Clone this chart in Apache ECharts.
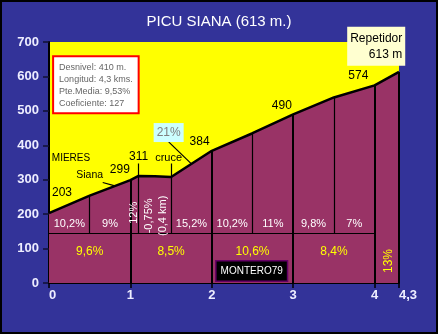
<!DOCTYPE html>
<html><head><meta charset="utf-8">
<script src="https://cdn.jsdelivr.net/npm/echarts@6/dist/echarts.min.js"></script>
<style>html,body{margin:0;padding:0;background:#333399}#c{width:438px;height:334px}</style>
</head><body><div id="c"></div>
<script>
// ---- data ----
const title = 'PICU SIANA (613 m.)';
const kms  = [0, 0.5, 1, 1.1, 1.3, 1.5, 2, 2.5, 3, 3.5, 4, 4.3];
const elev = [203, 254, 299, 311, 310, 308, 384, 435, 490, 539, 574, 613];
const segBounds = [0, 0.5, 1, 1.1, 1.5, 2, 2.5, 3, 3.5, 4];
const segGrades = ['10,2%', '9%', '12%', '-0,75%\n(0,4 km)', '15,2%', '10,2%', '11%', '9,8%', '7%'];
const kmBounds = [0, 1, 2, 3, 4, 4.3];
const kmGrades = ['9,6%', '8,5%', '10,6%', '8,4%', '13%'];
const xTicks = [0, 1, 2, 3, 4, 4.3];
const yTicks = [0, 100, 200, 300, 400, 500, 600, 700];
const infoLines = ['Desnivel: 410 m.', 'Longitud: 4,3 kms.', 'Pte.Media: 9,53%', 'Coeficiente: 127'];
const summit = ['Repetidor', '613 m'];
const credit = 'MONTERO79';

// ---- helpers ----
const FONT = '"Liberation Sans", Arial, sans-serif';
function elevAt(k) {
  for (let i = 0; i < kms.length - 1; i++) {
    if (k >= kms[i] && k <= kms[i + 1]) {
      return elev[i] + (elev[i + 1] - elev[i]) * (k - kms[i]) / (kms[i + 1] - kms[i]);
    }
  }
  return elev[elev.length - 1];
}
const SPLIT = 145; // horizontal split between segment and km grades

const thick = kmBounds.slice(1).map(k => ({ coords: [[k, 0], [k, elevAt(k)]] }));
const thin = segBounds.filter(k => kmBounds.indexOf(k) < 0).map(k => {
  const top = (k === 1.1 || k === 1.5) ? 347 : elevAt(k);
  return { coords: [[k, SPLIT], [k, top]] };
});
thin.push({ coords: [[0, SPLIT], [4, SPLIT]] });
thin.push({ coords: [[1.47, 410], [1.75, elevAt(1.75)]] });
thin.push({ coords: [[0.66, 292], [0.81, elevAt(0.81)]] });

const labels = [];
function lab(x, y, text, style) { labels.push({ value: [x, y], label: Object.assign({ formatter: text }, style) }); }

const segStyle = { color: '#ffffff', fontSize: 11 };
segGrades.forEach((g, i) => {
  const mid = (segBounds[i] + segBounds[i + 1]) / 2;
  if (i === 2) lab(mid, 204, g, Object.assign({ rotate: 90 }, segStyle));
  else if (i === 3) lab(mid + 0.01, 195, g, Object.assign({ rotate: 90, lineHeight: 14 }, segStyle));
  else lab(mid, 172, g, segStyle);
});
const kmStyle = { color: '#ffff00', fontSize: 12 };
kmGrades.forEach((g, i) => {
  const mid = (kmBounds[i] + kmBounds[i + 1]) / 2;
  if (i === 4) lab(mid + 0.02, 64, g, Object.assign({ rotate: 90 }, kmStyle));
  else lab(mid, 90, g, kmStyle);
});
const elStyle = { color: '#000000', fontSize: 12 };
lab(0.16, 262, String(elev[0]), elStyle);
lab(0.87, 330, String(elev[2]), elStyle);
lab(1.1, 367, String(elev[3]), elStyle);
lab(1.85, 411, String(elev[6]), elStyle);
lab(2.86, 516, String(elev[8]), elStyle);
lab(3.8, 601, String(elev[10]), elStyle);
lab(0.27, 362, 'MIERES', { color: '#000', fontSize: 10 });
lab(0.5, 312, 'Siana', { color: '#000', fontSize: 10.5 });
lab(1.47, 362, 'cruce', { color: '#000', fontSize: 11 });
lab(1.47, 437, '21%', { color: '#808080', fontSize: 12, backgroundColor: '#ccffff', padding: [4, 3, 3, 3] });
lab(4.02, 688, '{r|' + summit[0] + '}\n{r|' + summit[1] + '}', { color: '#000', fontSize: 12,
  backgroundColor: '#ffffd0', padding: [4, 3, 3, 3],
  rich: { r: { align: 'right', fontSize: 12, lineHeight: 16, fontFamily: FONT, color: '#000' } } });
lab(0.576, 576, infoLines.map(t => '{l|' + t + '}').join('\n'), { color: '#666666', fontSize: 9,
  backgroundColor: '#ffffff', borderColor: '#ff0000', borderWidth: 2, padding: [4, 5, 3, 5],
  rich: { l: { align: 'left', fontSize: 9, lineHeight: 12, fontFamily: FONT, color: '#666666' } } });
lab(2.49, 35, credit, { color: '#ffffff', fontSize: 10, backgroundColor: '#000000', borderColor: '#660066',
  borderWidth: 1.5, padding: [5, 4, 4, 4] });

labels.forEach(d => {
  d.label.show = true;
  d.label.position = 'inside';
  d.label.fontFamily = FONT;
  d.label.opacity = 1;
  if (!d.label.align) d.label.align = 'center';
  d.label.verticalAlign = 'middle';
});

const chart = echarts.init(document.getElementById('c'), null, { renderer: 'canvas' });
chart.setOption({
  backgroundColor: '#333399',
  animation: false,
  title: { text: title, left: 'center', top: 9, textStyle: { color: '#ffffff', fontSize: 15, fontWeight: 'normal', fontFamily: FONT } },
  grid: { left: 49, right: 39, top: 42, bottom: 51, show: true, backgroundColor: '#ffff00', borderWidth: 0 },
  xAxis: {
    type: 'value', min: xTicks[0], max: xTicks[xTicks.length - 1], interval: 1,
    axisLine: { show: true, lineStyle: { color: '#000', width: 2 } },
    axisTick: { show: true, length: 5, lineStyle: { color: '#000', width: 1.5 } },
    splitLine: { show: false },
    axisLabel: { color: '#eeeeff', fontSize: 13, fontWeight: 'bold', fontFamily: FONT, margin: 6,
      formatter: v => String(v).replace('.', ','), alignMinLabel: 'left', alignMaxLabel: 'left',
      showMinLabel: true, showMaxLabel: true }
  },
  yAxis: {
    type: 'value', min: yTicks[0], max: yTicks[yTicks.length - 1], interval: 100,
    axisLine: { show: true, lineStyle: { color: '#000', width: 2 } },
    axisTick: { show: true, length: 6, lineStyle: { color: '#111133', width: 1.5 } },
    splitLine: { show: false },
    axisLabel: { color: '#eeeeff', fontSize: 13, fontWeight: 'bold', fontFamily: FONT, margin: 10 }
  },
  graphic: [{ type: 'rect', shape: { x: 1, y: 1, width: 436, height: 332 }, style: { fill: 'none', stroke: '#000', lineWidth: 2 }, z: 100 }],
  series: [
    { type: 'line', data: kms.map((k, i) => [k, elev[i]]), symbol: 'none', z: 2,
      lineStyle: { color: '#000', width: 2.5 }, areaStyle: { color: '#993366', opacity: 1 } },
    { type: 'lines', coordinateSystem: 'cartesian2d', data: thick, z: 3, silent: true,
      lineStyle: { color: '#000', width: 2, opacity: 1 } },
    { type: 'lines', coordinateSystem: 'cartesian2d', data: thin, z: 3, silent: true,
      lineStyle: { color: '#000', width: 1.2, opacity: 1 } },
    { type: 'scatter', data: labels, symbolSize: 0, z: 5, silent: true, itemStyle: { opacity: 1 } }
  ]
});
</script></body></html>
